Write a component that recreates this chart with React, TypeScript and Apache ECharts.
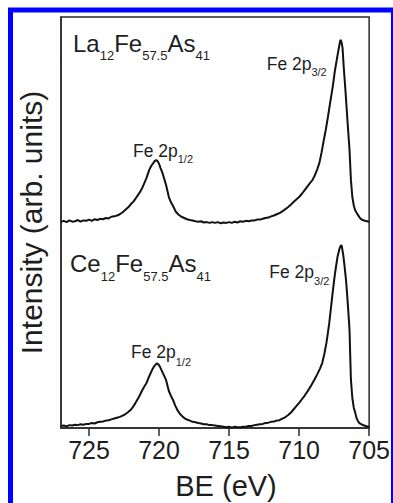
import React, { useEffect, useRef } from "react";
import * as echarts from "echarts";

// Binding energy (eV) and intensity (arb. units)
const laEnergy = [
  727.0, 726.8, 726.6, 726.4, 726.2, 726.0, 725.8, 725.6, 725.4, 725.2, 725.0, 724.8, 724.6, 724.4, 724.2, 724.0,
  723.8, 723.6, 723.4, 723.2, 723.0, 722.8, 722.6, 722.4, 722.2, 722.0, 721.8, 721.6, 721.4, 721.2, 721.05, 720.9,
  720.7, 720.55, 720.4, 720.3, 720.2, 720.1, 720.0, 719.9, 719.75, 719.6, 719.5, 719.3, 719.15, 719.0, 718.8, 718.6,
  718.4, 718.2, 718.0, 717.8, 717.6, 717.4, 717.2, 717.0, 716.8, 716.6, 716.4, 716.2, 716.0, 715.8, 715.6, 715.4,
  715.2, 715.0, 714.8, 714.6, 714.4, 714.2, 714.0, 713.8, 713.6, 713.4, 713.2, 713.0, 712.8, 712.6, 712.4, 712.2,
  712.0, 711.8, 711.6, 711.4, 711.2, 711.0, 710.8, 710.6, 710.4, 710.2, 710.0, 709.8, 709.6, 709.4, 709.2, 709.05,
  708.9, 708.7, 708.55, 708.4, 708.25, 708.1, 707.95, 707.8, 707.6, 707.45, 707.3, 707.2, 707.1, 707.05, 707.0, 706.95,
  706.9, 706.8, 706.7, 706.6, 706.55, 706.45, 706.4, 706.3, 706.2, 706.1, 706.0, 705.85, 705.7, 705.6, 705.45, 705.3,
  705.15, 705.0,
];
const laIntensity = [
  50.2, 50.4, 50.1, 50.5, 50.2, 50.3, 50.6, 50.2, 50.5, 50.4, 50.7, 50.4, 50.8, 50.6, 50.9, 50.8,
  51.1, 51.0, 51.4, 51.5, 51.7, 52.0, 52.5, 53.1, 53.7, 54.5, 55.2, 56.2, 57.2, 58.4, 59.6, 60.8,
  62.8, 63.8, 64.5, 65.0, 65.2, 64.9, 64.3, 63.3, 62.0, 60.3, 59.1, 56.2, 54.9, 54.0, 52.6, 51.9,
  51.4, 51.1, 50.8, 50.6, 50.5, 50.3, 50.2, 50.3, 50.0, 50.1, 49.9, 50.1, 49.9, 50.1, 49.8, 50.0,
  49.9, 50.1, 49.9, 50.2, 50.0, 50.3, 50.2, 50.4, 50.3, 50.5, 50.5, 50.7, 50.7, 50.9, 51.1, 51.2,
  51.5, 51.7, 52.0, 52.3, 52.7, 53.2, 53.7, 54.3, 55.0, 55.6, 56.2, 57.0, 57.9, 58.8, 59.7, 60.3,
  61.3, 63.0, 64.5, 67.0, 69.8, 72.5, 75.5, 78.8, 83.0, 86.8, 89.8, 91.8, 93.6, 94.4, 94.2, 93.5,
  92.5, 87.1, 82.5, 77.5, 74.9, 70.0, 67.6, 60.3, 56.2, 54.2, 53.0, 52.1, 51.3, 50.9, 50.6, 50.4,
  50.3, 50.2,
];

const ceEnergy = [
  727.0, 726.8, 726.6, 726.4, 726.2, 726.0, 725.8, 725.6, 725.4, 725.2, 725.0, 724.8, 724.6, 724.4, 724.2, 724.0,
  723.8, 723.6, 723.4, 723.2, 723.0, 722.8, 722.6, 722.4, 722.2, 722.0, 721.85, 721.7, 721.55, 721.4, 721.2, 721.05,
  720.9, 720.7, 720.5, 720.35, 720.2, 720.15, 720.05, 719.95, 719.8, 719.65, 719.5, 719.3, 719.15, 719.0, 718.85, 718.7,
  718.5, 718.3, 718.1, 717.8, 717.6, 717.4, 717.2, 717.0, 716.8, 716.6, 716.4, 716.2, 716.0, 715.8, 715.6, 715.4,
  715.2, 715.0, 714.8, 714.6, 714.4, 714.2, 714.0, 713.8, 713.6, 713.4, 713.2, 713.0, 712.8, 712.6, 712.4, 712.2,
  712.0, 711.8, 711.6, 711.4, 711.2, 711.0, 710.8, 710.6, 710.4, 710.2, 710.0, 709.8, 709.6, 709.4, 709.2, 709.05,
  708.9, 708.7, 708.5, 708.35, 708.2, 708.05, 707.95, 707.85, 707.75, 707.65, 707.5, 707.4, 707.25, 707.1, 707.0, 706.95,
  706.85, 706.75, 706.65, 706.55, 706.45, 706.4, 706.35, 706.3, 706.2, 706.1, 706.0, 705.9, 705.8, 705.7, 705.5, 705.35,
  705.2, 705.0,
];
const ceIntensity = [
  0.5, 0.6, 0.4, 0.7, 0.6, 0.8, 0.7, 0.9, 0.8, 1.0, 1.0, 1.2, 1.1, 1.4, 1.5, 1.6,
  1.8, 1.9, 2.1, 2.3, 2.5, 2.7, 3.0, 3.4, 3.9, 4.5, 5.2, 6.0, 6.9, 7.8, 9.2, 10.1,
  10.9, 12.6, 14.1, 15.0, 15.6, 15.7, 15.5, 15.0, 13.9, 12.8, 11.7, 9.0, 7.8, 6.8, 5.5, 4.4,
  3.4, 2.7, 2.2, 1.8, 1.5, 1.4, 1.2, 1.1, 0.9, 0.9, 0.7, 0.7, 0.6, 0.5, 0.4, 0.3,
  0.2, 0.3, 0.1, 0.3, 0.2, 0.2, 0.3, 0.3, 0.5, 0.5, 0.7, 0.8, 0.9, 1.0, 1.2, 1.3,
  1.5, 1.6, 1.8, 1.9, 2.3, 2.6, 3.1, 3.7, 4.5, 5.3, 6.1, 7.0, 7.9, 8.9, 10.0, 10.9,
  11.8, 13.1, 14.5, 15.8, 18.0, 20.7, 23.0, 25.5, 28.5, 31.6, 36.0, 38.5, 41.8, 43.8, 44.5, 44.2,
  42.1, 39.2, 36.0, 31.5, 26.5, 23.8, 17.5, 11.7, 7.3, 5.0, 3.8, 2.4, 1.7, 1.2, 0.8, 0.6,
  0.4, 0.3,
];

const xTickValues = [705, 710, 715, 720, 725];
const xAxisTitle = "BE (eV)";
const yAxisTitle = "Intensity (arb. units)";

// Labels: [main, subscript] pairs
const laLabel: [string, string][] = [["La", "12"], ["Fe", "57.5"], ["As", "41"]];
const ceLabel: [string, string][] = [["Ce", "12"], ["Fe", "57.5"], ["As", "41"]];
const p32Label: [string, string][] = [["Fe 2p", "3/2"]];
const p12Label: [string, string][] = [["Fe 2p", "1/2"]];

const FONT_NAME = "Liberation Sans";
const FONT = "'Liberation Sans', Arial, Helvetica, sans-serif";
const TEXT = "#1e1e1e";

let measureCtx: CanvasRenderingContext2D | null = null;
function textWidth(s: string, size: number) {
  if (!measureCtx) measureCtx = document.createElement("canvas").getContext("2d");
  if (!measureCtx) return s.length * size * 0.55;
  measureCtx.font = `${size}px '${FONT_NAME}', Arial, sans-serif`;
  return measureCtx.measureText(s).width;
}

function subLabel(
  parts: [string, string][],
  x: number,
  baseline: number,
  main: number,
  sub: number,
  drop: number
) {
  const els: any[] = [];
  let cx = x;
  for (const [m, s] of parts) {
    els.push({
      type: "text",
      x: cx,
      y: baseline - 0.34 * main,
      silent: true,
      style: { text: m, align: "left", verticalAlign: "middle", fontSize: main, fontFamily: FONT, fill: TEXT },
    });
    cx += textWidth(m, main);
    els.push({
      type: "text",
      x: cx,
      y: baseline + drop - 0.34 * sub,
      silent: true,
      style: { text: s, align: "left", verticalAlign: "middle", fontSize: sub, fontFamily: FONT, fill: TEXT },
    });
    cx += textWidth(s, sub);
  }
  return els;
}

export default function App() {
  const ref = useRef<HTMLDivElement>(null);
  useEffect(() => {
    if (!ref.current) return;
    const chart = echarts.init(ref.current, undefined, { renderer: "svg" });
    const la = laEnergy.map((e, i) => [e, laIntensity[i]]);
    const ce = ceEnergy.map((e, i) => [e, ceIntensity[i]]);
    chart.setOption({
      animation: false,
      backgroundColor: "#ffffff",
      grid: {
        left: 61,
        right: 23,
        top: 17,
        bottom: 75,
        show: true,
        borderColor: "#2a2a2a",
        borderWidth: 1.5,
        backgroundColor: "transparent",
      },
      xAxis: {
        type: "value",
        min: 705,
        max: 727,
        interval: 5,
        inverse: true,
        axisLine: { show: true, lineStyle: { color: "#2a2a2a", width: 1.5 } },
        axisTick: {
          show: true,
          inside: false,
          length: 8,
          customValues: xTickValues,
          lineStyle: { color: "#2a2a2a", width: 1.5 },
        },
        axisLabel: {
          show: true,
          customValues: xTickValues,
          margin: 9,
          fontSize: 25,
          fontFamily: FONT,
          color: TEXT,
        },
        splitLine: { show: false },
      },
      yAxis: {
        type: "value",
        min: 0,
        max: 100,
        axisLine: { show: true, lineStyle: { color: "#2a2a2a", width: 1.5 } },
        axisTick: { show: false },
        axisLabel: { show: false },
        splitLine: { show: false },
      },
      series: [
        {
          name: "La12Fe57.5As41",
          type: "line",
          data: la,
          showSymbol: false,
          lineStyle: { color: "#111111", width: 2 },
          itemStyle: { color: "#111111" },
        },
        {
          name: "Ce12Fe57.5As41",
          type: "line",
          data: ce,
          showSymbol: false,
          lineStyle: { color: "#111111", width: 2 },
          itemStyle: { color: "#111111" },
        },
      ],
      graphic: [
        {
          type: "rect",
          silent: true,
          shape: { x: 10.5, y: 10, width: 383, height: 600 },
          style: { fill: "none", stroke: "#0000ff", lineWidth: 5 },
        },
        {
          type: "text",
          x: 31,
          y: 222.5,
          rotation: Math.PI / 2,
          silent: true,
          style: {
            text: yAxisTitle,
            align: "center",
            verticalAlign: "middle",
            fontSize: 30,
            fontFamily: FONT,
            fill: TEXT,
          },
        },
        {
          type: "text",
          x: 226,
          y: 486,
          silent: true,
          style: {
            text: xAxisTitle,
            align: "center",
            verticalAlign: "middle",
            fontSize: 29,
            fontFamily: FONT,
            fill: TEXT,
          },
        },
        ...subLabel(laLabel, 73, 51.7, 24, 13, 8),
        ...subLabel(p32Label, 266.7, 70, 17.5, 11, 6),
        ...subLabel(p12Label, 133, 156.7, 17.5, 11, 6),
        ...subLabel(ceLabel, 70, 271.7, 24, 13, 9),
        ...subLabel(p32Label, 269.3, 278.3, 17.5, 11, 6.5),
        ...subLabel(p12Label, 131, 358.3, 17.5, 11, 7),
      ],
    });
    return () => chart.dispose();
  }, []);
  return (
    <div
      ref={ref}
      style={{ position: "fixed", left: 0, top: 0, width: 393, height: 503, background: "#fff" }}
    />
  );
}
